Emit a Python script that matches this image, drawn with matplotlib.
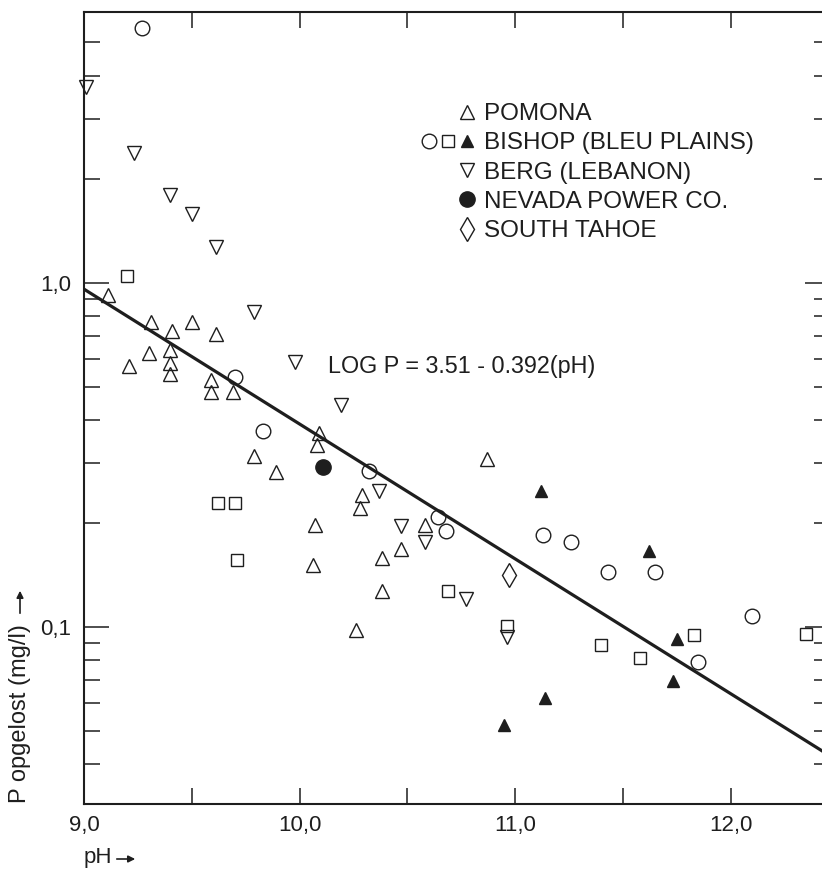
import numpy as np
import matplotlib
matplotlib.use("Agg")
import matplotlib.pyplot as plt
from matplotlib.lines import Line2D
from matplotlib.legend_handler import HandlerTuple
from matplotlib.ticker import FixedLocator, FixedFormatter, MultipleLocator, FuncFormatter, NullFormatter

plt.rcParams["font.family"] = ["Liberation Sans", "DejaVu Sans"]

INK = "#1e1e1e"

# regression: log P = 3.51 - 0.392 pH
INTERCEPT = 3.51
SLOPE = -0.392

pomona_ph = [9.11, 9.31, 9.41, 9.50, 9.61, 9.30, 9.21, 9.40, 9.40, 9.40,
             9.59, 9.59, 9.69, 9.79, 9.89, 10.09, 10.08, 10.07, 10.06, 10.29,
             10.28, 10.38, 10.47, 10.58, 10.87, 10.38, 10.26]
pomona_p = [0.923, 0.770, 0.725, 0.770, 0.711, 0.626, 0.574, 0.639, 0.585, 0.544,
            0.523, 0.482, 0.482, 0.314, 0.282, 0.366, 0.338, 0.198, 0.151, 0.242,
            0.222, 0.159, 0.169, 0.198, 0.308, 0.127, 0.098]

bishop_circle_ph = [9.27, 9.70, 9.83, 10.32, 10.64, 10.68, 11.13, 11.26, 11.43, 11.65, 12.10, 11.85]
bishop_circle_p = [5.51, 0.533, 0.371, 0.284, 0.209, 0.190, 0.185, 0.177, 0.1445, 0.1445, 0.108, 0.079]

bishop_square_ph = [9.20, 9.62, 9.70, 9.71, 10.69, 10.96, 11.40, 11.58, 11.83, 12.35]
bishop_square_p = [1.048, 0.229, 0.229, 0.157, 0.127, 0.101, 0.0886, 0.0813, 0.0948, 0.0954]

bishop_fill_ph = [11.12, 11.62, 11.75, 11.73, 10.95, 11.14]
bishop_fill_p = [0.248, 0.166, 0.0923, 0.0697, 0.0519, 0.0622]

berg_ph = [9.01, 9.23, 9.40, 9.50, 9.61, 9.79, 9.98, 10.19, 10.37, 10.47, 10.58, 10.77, 10.96]
berg_p = [3.71, 2.39, 1.80, 1.59, 1.27, 0.823, 0.589, 0.442, 0.248, 0.197, 0.177, 0.1206, 0.0935]

nevada_ph = [10.11]
nevada_p = [0.292]

tahoe_ph = [10.97]
tahoe_p = [0.1416]

legend_labels = ["POMONA", "BISHOP (BLEU PLAINS)", "BERG (LEBANON)",
                 "NEVADA POWER CO.", "SOUTH TAHOE"]

y_minor = [0.04, 0.05, 0.06, 0.07, 0.08, 0.09,
           0.2, 0.3, 0.4, 0.5, 0.6, 0.7, 0.8, 0.9,
           2, 3, 4, 5]

fig = plt.figure(figsize=(8.22, 8.69), dpi=100)
ax = fig.add_axes([84 / 822, 65 / 869, 746 / 822, 792 / 869])

open_kw = dict(linestyle="none", markerfacecolor="none", markeredgecolor=INK,
               markeredgewidth=1.0, clip_on=False)

# fitted line over the full pH range
xmin, xmax = 9.0, 12.46
line_ph = np.linspace(xmin, xmax, 50)
ax.plot(line_ph, 10 ** (INTERCEPT + SLOPE * line_ph), color=INK, lw=2.3)

h_pomona, = ax.plot(pomona_ph, pomona_p, marker="^", markersize=9.5, **open_kw)
h_circle, = ax.plot(bishop_circle_ph, bishop_circle_p, marker="o", markersize=10.5, **open_kw)
h_square, = ax.plot(bishop_square_ph, bishop_square_p, marker="s", markersize=8.5, **open_kw)
h_fill, = ax.plot(bishop_fill_ph, bishop_fill_p, marker="^", markersize=8, linestyle="none",
                  color=INK, clip_on=False)
h_berg, = ax.plot(berg_ph, berg_p, marker="v", markersize=9.5, **open_kw)
h_nevada, = ax.plot(nevada_ph, nevada_p, marker="o", markersize=11, linestyle="none",
                    color=INK, clip_on=False)
h_tahoe, = ax.plot(tahoe_ph, tahoe_p, marker="d", markersize=12, **open_kw)

ax.set_yscale("log")
ax.set_xlim(xmin, xmax)
ax.set_ylim(0.0306, 6.13)

ax.xaxis.set_major_locator(MultipleLocator(0.5))
ax.xaxis.set_major_formatter(FuncFormatter(
    lambda v, _: f"{v:.1f}".replace(".", ",") if abs(v - round(v)) < 1e-6 else ""))
ax.yaxis.set_major_locator(FixedLocator([0.1, 1.0]))
ax.yaxis.set_major_formatter(FixedFormatter(["0,1", "1,0"]))
ax.yaxis.set_minor_locator(FixedLocator(y_minor))
ax.yaxis.set_minor_formatter(NullFormatter())

ax.tick_params(axis="both", which="both", direction="in", top=True, right=True,
               color=INK, width=1.1, labelsize=16, labelcolor=INK)
ax.tick_params(axis="x", which="major", length=11.5, pad=8)
ax.tick_params(axis="y", which="major", length=18, pad=9)
ax.tick_params(axis="y", which="minor", length=11.5)

for side in ax.spines.values():
    side.set_linewidth(1.5)
    side.set_color(INK)

ax.text(10.13, 0.57, "LOG P = 3.51 - 0.392(pH)", fontsize=16.8, color=INK,
        ha="left", va="center")

# legend: single markers sit in the right slot, bishop gets all three
blank = Line2D([], [], linestyle="none", marker="")
handles = [(blank, blank, h_pomona),
           (h_circle, h_square, h_fill),
           (blank, blank, h_berg),
           (blank, blank, h_nevada),
           (blank, blank, h_tahoe)]
ax.legend(handles, legend_labels, handler_map={tuple: HandlerTuple(ndivide=3, pad=0)},
          loc="upper left", bbox_to_anchor=(420 / 822, 1 - 103 / 869),
          bbox_transform=fig.transFigure, frameon=False, fontsize=17.5,
          borderpad=0, borderaxespad=0, handlelength=2.3, handletextpad=0.35,
          labelspacing=0.3, numpoints=1, labelcolor=INK)

# axis captions with arrows
fig.text(20 / 822, 1 - 803 / 869, "P opgelost (mg/l)", rotation=90, fontsize=17,
         color=INK, ha="center", va="bottom")
fig.text(84 / 822, 1 - 858 / 869, "pH", fontsize=16, color=INK, ha="left", va="center")
arrow = dict(arrowstyle="-|>", color=INK, lw=1.2, mutation_scale=10)
ax.annotate("", xy=(20 / 822, 1 - 588 / 869), xytext=(20 / 822, 1 - 616 / 869),
            xycoords="figure fraction", textcoords="figure fraction", arrowprops=arrow)
ax.annotate("", xy=(138 / 822, 1 - 859 / 869), xytext=(114 / 822, 1 - 859 / 869),
            xycoords="figure fraction", textcoords="figure fraction", arrowprops=arrow)

fig.savefig("out.png", dpi=100, facecolor="white")
